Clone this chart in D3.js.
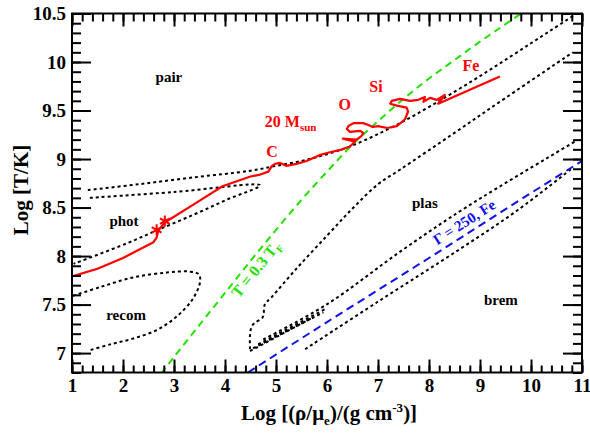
<!DOCTYPE html>
<html lang="en">
<head>
    <meta charset="utf-8">
    <title>Neutrino regions</title>
    <script src="https://d3js.org/d3.v7.min.js" charset="utf-8"></script>
    <style type="text/css">
        body { margin: 0; background: #fff; }
        svg text { font-family: 'Liberation Serif', 'Times New Roman', Times, serif !important; font-weight: bold; }
    </style>
</head>
<body>
<script type="text/javascript">

    // tick values
    var xMajor = [1, 2, 3, 4, 5, 6, 7, 8, 9, 10, 11];
    var yMajor = [7, 7.5, 8, 8.5, 9, 9.5, 10, 10.5];

    // boundaries between dominant processes (log rho/mu_e, log T)
    var pairLine = [[1.31,8.68],[2.3,8.74],[3.37,8.81],[4.5,8.88],[5.0,8.93],[5.5,8.98],[6.0,9.05],[6.5,9.14],
                    [7.43,9.37],[8.74,9.77],[10.37,10.32],[10.9,10.5]];
    var photWedge = [[1.35,8.60],[3.0,8.66],[4.69,8.73],[4.03,8.58],[3.4,8.43],[2.73,8.28],[2.07,8.13],[1.03,7.92]];
    var recomLoop = [[1.02,7.59],[1.55,7.68],[2.2,7.78],[2.86,7.83],[3.31,7.84],[3.49,7.81],[3.51,7.73],
                     [3.37,7.56],[3.06,7.38],[2.67,7.24],[2.2,7.15],[1.75,7.09],[1.35,7.03]];
    var plasLine = [[4.49,7.04],[4.49,7.18],[4.52,7.27],[4.58,7.31],[4.74,7.37],[4.78,7.50],[4.92,7.58],
                    [5.4,7.87],[6.0,8.21],[6.5,8.49],[7.0,8.74],[7.43,8.89],[8.5,9.27],[9.5,9.63],[10.82,10.1]];
    var bremUpper = [[4.75,7.14],[5.99,7.50],[7.5,8.07],[8.75,8.51],[10.86,9.18]];
    var bunch1 = [[4.65,7.09],[5.99,7.46]];
    var bunch2 = [[4.55,7.05],[5.93,7.42]];
    var bunch3 = [[4.49,7.02],[5.73,7.37]];
    var bremLower = [[5.57,7.04],[7.0,7.53],[8.6,8.07],[9.73,8.47],[10.82,8.91]];

    // T = 0.3 T_F and Gamma = 250 (Fe)
    var fermiLine = [[2.75,6.79],[3,6.96],[3.5,7.29],[4,7.62],[4.5,7.95],[5,8.27],[5.5,8.58],[6,8.87],
                     [6.5,9.15],[7,9.39],[7.5,9.62],[8,9.83],[8.5,10.02],[9,10.21],[9.5,10.39],[10,10.57]];
    var gammaLine = [[4.45,6.8],[6,7.32],[8,7.98],[10,8.65],[11,8.98]];

    // 20 Msun central evolution track
    var track = [[1.0,7.79],[1.5,7.87],[2.0,7.98],[2.33,8.07],[2.59,8.14],[2.66,8.19],[2.69,8.26],[2.79,8.33],
                 [2.92,8.38],[3.38,8.53],[3.95,8.72],[4.5,8.82],[4.69,8.84],[4.85,8.87],[4.92,8.93],[4.98,8.95],
                 [5.08,8.96],[5.2,8.93],[5.4,8.95],[5.6,8.98],[5.85,9.04],[6.06,9.07],[6.3,9.10],[6.45,9.13],
                 [6.55,9.18],[6.31,9.21],[6.58,9.20],[6.68,9.24],[6.71,9.27],[6.65,9.29],[6.45,9.28],[6.39,9.31],
                 [6.42,9.34],[6.52,9.37],[6.71,9.37],[6.81,9.35],[6.9,9.33],[7.0,9.34],[7.18,9.32],[7.37,9.34],
                 [7.53,9.41],[7.59,9.49],[7.56,9.53],[7.37,9.55],[7.24,9.57],[7.27,9.60],[7.43,9.62],[7.63,9.60],
                 [7.79,9.61],[7.92,9.64],[7.89,9.59],[8.02,9.63],[8.15,9.61],[8.31,9.66],[8.18,9.57],[9.39,9.85]];
    var stars = [[2.66,8.27],[2.82,8.36]];

    var regionNames = ["pair", "phot", "recom", "plas", "brem"];
    var regionX = [2.90, 2.02, 2.06, 7.92, 9.41];
    var regionY = [9.79, 8.31, 7.34, 8.50, 7.50];

    var phaseNames = ["C", "O", "Si", "Fe"];
    var phaseX = [4.92, 6.35, 6.96, 8.82];
    var phaseY = [9.02, 9.51, 9.69, 9.91];

    var serif = "'Liberation Serif', 'Times New Roman', serif";
    var w = 590, h = 433;
    var x = d3.scaleLinear().domain([1, 11]).range([72, 582]);
    var y = d3.scaleLinear().domain([6.8, 10.5]).range([372.5, 13.5]);

    var svg = d3.select("body").append("svg")
        .attr("width", w)
        .attr("height", h)
        .attr("font-family", serif)
        .attr("font-weight", "bold");

    svg.append("clipPath").attr("id", "plot")
        .append("rect")
        .attr("x", x(1)).attr("y", y(10.5))
        .attr("width", x(11) - x(1)).attr("height", y(6.8) - y(10.5));

    var smooth = d3.line().x(function(d) { return x(d[0]); }).y(function(d) { return y(d[1]); })
        .curve(d3.curveCatmullRom.alpha(0.5));
    var straight = d3.line().x(function(d) { return x(d[0]); }).y(function(d) { return y(d[1]); });

    var g = svg.append("g").attr("clip-path", "url(#plot)");

    [pairLine, photWedge, recomLoop, plasLine, bremUpper, bunch1, bunch2, bunch3, bremLower].forEach(function(d) {
        g.append("path")
         .attr("d", smooth(d))
         .attr("fill", "none")
         .attr("stroke", "#000")
         .attr("stroke-width", 2)
         .attr("stroke-dasharray", "3,3");
    });

    g.append("path")
     .attr("d", smooth(fermiLine))
     .attr("fill", "none")
     .attr("stroke", "#22e000")
     .attr("stroke-width", 2)
     .attr("stroke-dasharray", "7,5");

    g.append("path")
     .attr("d", straight(gammaLine))
     .attr("fill", "none")
     .attr("stroke", "#1010e8")
     .attr("stroke-width", 2)
     .attr("stroke-dasharray", "8,5");

    g.append("path")
     .attr("d", straight(track))
     .attr("fill", "none")
     .attr("stroke", "#ff0000")
     .attr("stroke-width", 2.2)
     .attr("stroke-linejoin", "round");

    g.selectAll("path.star")
     .data(stars)
     .enter()
     .append("path")
     .attr("class", "star")
     .attr("transform", function(d) { return "translate(" + x(d[0]) + "," + y(d[1]) + ")"; })
     .attr("d", d3.symbol().type(d3.symbolAsterisk).size(90))
     .attr("fill", "none")
     .attr("stroke", "#ff0000")
     .attr("stroke-width", 2);

    // axes: major + minor ticks on all four sides
    function drawAxis(axis, tf) {
        var a = svg.append("g").attr("transform", tf).call(axis);
        a.select(".domain").remove();
        a.attr("font-family", serif).attr("font-size", 19);
        a.selectAll("line").attr("stroke", "#000").attr("stroke-width", 2);
        a.selectAll("text").attr("fill", "#000");
        return a;
    }
    var xMinor = d3.range(1, 11.001, 0.2);
    var yMinor = d3.range(6.8, 10.501, 0.1);

    drawAxis(d3.axisBottom(x).tickValues(xMinor).tickSize(-7).tickFormat(""), "translate(0," + y(6.8) + ")");
    drawAxis(d3.axisTop(x).tickValues(xMinor).tickSize(-8).tickFormat(""), "translate(0," + y(10.5) + ")");
    drawAxis(d3.axisLeft(y).tickValues(yMinor).tickSize(-9).tickFormat(""), "translate(" + x(1) + ",0)");
    drawAxis(d3.axisRight(y).tickValues(yMinor).tickSize(-9).tickFormat(""), "translate(" + x(11) + ",0)");
    drawAxis(d3.axisTop(x).tickValues(xMajor).tickSize(-13).tickFormat(""), "translate(0," + y(10.5) + ")");
    drawAxis(d3.axisRight(y).tickValues(yMajor).tickSize(-19).tickFormat(""), "translate(" + x(11) + ",0)");

    drawAxis(d3.axisBottom(x).tickValues(xMajor).tickSize(-13).tickPadding(6), "translate(0," + y(6.8) + ")");
    drawAxis(d3.axisLeft(y).tickValues(yMajor).tickSize(-19).tickPadding(6)
        .tickFormat(function(d) { return String(d); }), "translate(" + x(1) + ",0)");

    svg.append("rect")
       .attr("x", x(1)).attr("y", y(10.5))
       .attr("width", x(11) - x(1)).attr("height", y(6.8) - y(10.5))
       .attr("fill", "none").attr("stroke", "#000").attr("stroke-width", 2);

    // region labels
    svg.selectAll("text.region")
       .data(regionNames)
       .enter()
       .append("text")
       .attr("class", "region")
       .attr("x", function(d, i) { return x(regionX[i]); })
       .attr("y", function(d, i) { return y(regionY[i]); })
       .attr("text-anchor", "middle")
       .attr("font-size", "15px")
       .text(function(d) { return d; });

    svg.selectAll("text.phase")
       .data(phaseNames)
       .enter()
       .append("text")
       .attr("class", "phase")
       .attr("x", function(d, i) { return x(phaseX[i]); })
       .attr("y", function(d, i) { return y(phaseY[i]); })
       .attr("text-anchor", "middle")
       .attr("font-size", "16px")
       .attr("fill", "#ff0000")
       .text(function(d) { return d; });

    var mt = svg.append("text")
       .attr("x", x(4.78)).attr("y", y(9.33))
       .attr("font-size", "16px").attr("fill", "#ff0000");
    mt.append("tspan").text("20 M");
    mt.append("tspan").attr("font-size", "11px").attr("baseline-shift", "-4px").text("sun");

    var ft = svg.append("text")
       .attr("transform", "translate(" + x(4.27) + "," + y(7.56) + ") rotate(-51)")
       .attr("font-size", "16px").attr("fill", "#22e000");
    ft.append("tspan").text("T = 0.3 T");
    ft.append("tspan").attr("font-size", "10px").attr("baseline-shift", "-4px").text("F");

    svg.append("text")
       .attr("transform", "translate(" + x(8.16) + "," + y(8.11) + ") rotate(-32.5)")
       .attr("font-size", "15px").attr("fill", "#1010e8")
       .text("\u0393 = 250, Fe");

    // axis titles
    svg.append("text")
       .attr("transform", "translate(28,190) rotate(-90)")
       .attr("text-anchor", "middle")
       .attr("font-size", "21px")
       .text("Log [T/K]");

    var xt = svg.append("text")
       .attr("x", 329).attr("y", 420)
       .attr("text-anchor", "middle")
       .attr("font-size", "21px");
    xt.append("tspan").text("Log [(\u03c1/\u03bc");
    xt.append("tspan").attr("font-size", "13px").attr("baseline-shift", "-5px").text("e");
    xt.append("tspan").text(")/(g cm");
    xt.append("tspan").attr("font-size", "13px").attr("baseline-shift", "8px").text("-3");
    xt.append("tspan").text(")]");

</script>
</body>
</html>
